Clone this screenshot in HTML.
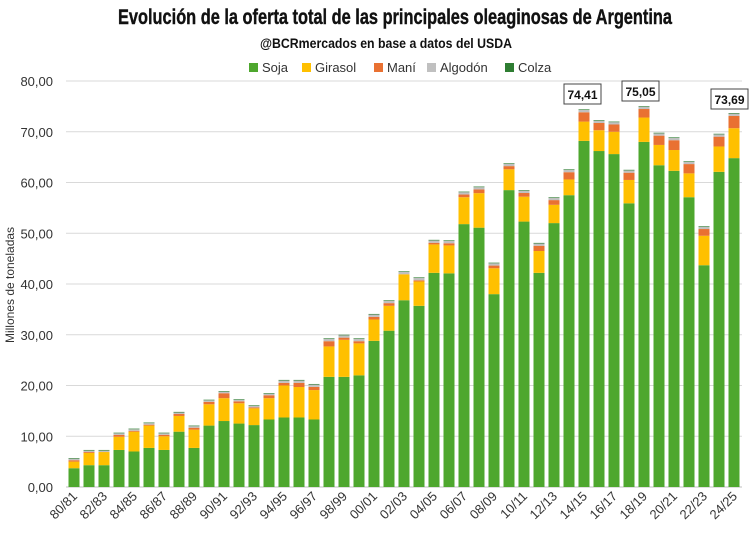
<!DOCTYPE html>
<html><head><meta charset="utf-8"><style>
html,body{margin:0;padding:0;background:#fff;}
svg{display:block;font-family:"Liberation Sans",sans-serif;}
</style></head><body>
<svg id="c" width="750" height="542" viewBox="0 0 750 542" xmlns="http://www.w3.org/2000/svg">
<rect width="750" height="542" fill="#fff"/>
<text x="395" y="24" text-anchor="middle" font-family="Liberation Sans Narrow, Liberation Sans, sans-serif" font-weight="bold" font-size="21" textLength="554" lengthAdjust="spacingAndGlyphs" fill="#111" stroke="#111" stroke-width="0.4">Evolución de la oferta total de las principales oleaginosas de Argentina</text>
<text x="386" y="48" text-anchor="middle" font-family="Liberation Sans Narrow, Liberation Sans, sans-serif" font-weight="bold" font-size="14" textLength="252" lengthAdjust="spacingAndGlyphs" fill="#111">@BCRmercados  en base a datos del USDA</text>
<g font-size="13" fill="#333">
<rect x="249" y="63" width="9" height="9" fill="#4ea72e"/><text x="262" y="72">Soja</text>
<rect x="302" y="63" width="9" height="9" fill="#ffc000"/><text x="315" y="72">Girasol</text>
<rect x="374" y="63" width="9" height="9" fill="#e97132"/><text x="387" y="72">Maní</text>
<rect x="427" y="63" width="9" height="9" fill="#c0c0c0"/><text x="440" y="72">Algodón</text>
<rect x="505" y="63" width="9" height="9" fill="#2e7d32"/><text x="518" y="72">Colza</text>
</g>
<text transform="translate(14,285) rotate(-90)" text-anchor="middle" font-size="12" fill="#333">Millones de toneladas</text>
<g id="grid"></g>
<g id="bars"></g>
<g id="xl" font-size="13" fill="#333"></g>
<g font-size="12" font-weight="bold" fill="#111">
<rect x="564" y="84" width="37" height="20" fill="#fff" stroke="#444"/><text x="582.5" y="99" text-anchor="middle">74,41</text>
<rect x="622" y="81" width="37" height="20" fill="#fff" stroke="#444"/><text x="640.5" y="96" text-anchor="middle">75,05</text>
<rect x="711" y="89" width="37" height="20" fill="#fff" stroke="#444"/><text x="729.5" y="104" text-anchor="middle">73,69</text>
</g>
</svg>
<script>
var ns="http://www.w3.org/2000/svg";
function el(p,t,a,txt){var e=document.createElementNS(ns,t);for(var k in a)e.setAttribute(k,a[k]);if(txt!=null)e.textContent=txt;p.appendChild(e);return e;}
var Y0=487,S=5.075;
var g=document.getElementById("grid");
for(var v=0;v<=80;v+=10){var y=Y0-v*S;
 if(v>0)el(g,"line",{x1:66,x2:742,y1:y,y2:y,stroke:"#d9d9d9","stroke-width":1});
 el(g,"text",{x:53,y:y+5,"text-anchor":"end","font-size":"13",fill:"#333"},v+",00");}
el(g,"line",{x1:66,x2:742,y1:Y0,y2:Y0,stroke:"#bfbfbf","stroke-width":1});
var d=[[3.7,5.0,5.7],[4.3,6.7,7.3],[4.3,7.0,7.3],[7.3,9.9,10.7],[7.0,10.9,11.5],[7.7,12.1,12.7],[7.3,10.0,10.7],[10.9,14.0,14.8],[7.7,11.3,12.1],[12.1,16.3,17.2],
[13.0,17.5,18.9],[12.5,16.5,17.3],[12.2,15.5,16.1],[13.3,17.5,18.5],[13.7,20.0,21.1],[13.7,19.7,21.1],[13.3,19.1,20.3],[21.7,27.7,29.3],[21.7,29.0,30.0],[22.0,28.3,29.3],
[28.8,33.0,34.1],[30.8,35.7,36.8],[36.8,41.9,42.5],[35.7,40.5,41.3],[42.2,47.8,48.7],[42.1,47.6,48.6],[51.8,57.1,58.2],[51.1,57.9,59.2],[38.0,43.1,44.2],[58.5,62.6,63.8],
[52.3,57.2,58.5],[42.2,46.5,48.1],[52.0,55.6,57.1],[57.5,60.6,62.6],[68.2,72.0,74.41],[66.2,70.3,72.3],[65.6,70.0,72.0],[55.9,60.5,62.5],[68.0,72.8,75.05],[63.4,67.4,69.8],
[62.3,66.4,68.9],[57.1,61.8,64.2],[43.7,49.5,51.4],[62.1,67.1,69.6],[64.8,70.7,73.69]];
var b=document.getElementById("bars"),xl=document.getElementById("xl");
d.forEach(function(r,i){var cx=74+15*i,x=cx-5.5,w=11;
 var alg=r[2]>20?0.45:0.3,col=0.12;
 var segs=[[0,r[0],"#4ea72e"],[r[0],r[1],"#ffc000"],[r[1],r[2]-alg-col,"#e97132"],[r[2]-alg-col,r[2]-col,"#c0c0c0"],[r[2]-col,r[2],"#2e7d32"]];
 segs.forEach(function(s){if(s[1]>s[0])el(b,"rect",{x:x,y:Y0-s[1]*S,width:w,height:(s[1]-s[0])*S,fill:s[2]});});
 if(i%2==0){var y1=80+i,y2=y1+1;var lab=(""+(y1%100)).padStart(2,"0")+"/"+(""+(y2%100)).padStart(2,"0");
  el(xl,"text",{x:0,y:0,"text-anchor":"end",transform:"translate("+(cx+4)+",497) rotate(-45)"},lab);}
});
</script>
</body></html>
